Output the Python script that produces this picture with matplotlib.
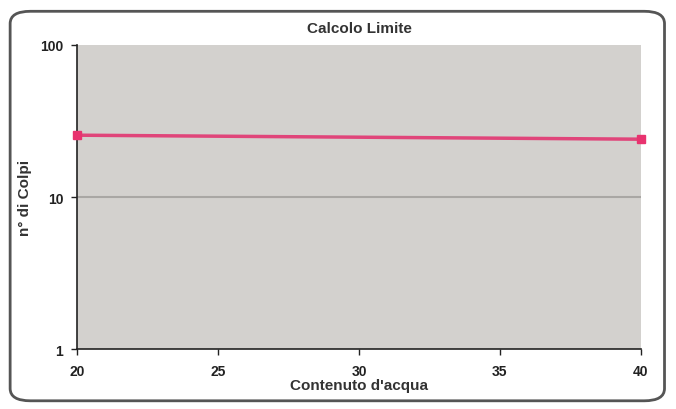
import numpy as np
import matplotlib
matplotlib.use("Agg")
import matplotlib.pyplot as plt
from matplotlib.patches import FancyBboxPatch
from matplotlib.ticker import FixedLocator, NullLocator, FixedFormatter

# data
water = [20, 40]
blows = [25.5, 24.0]
ref_line = [10, 10]
x_ticks = [20, 25, 30, 35, 40]
y_ticks = [1, 10, 100]

plt.rcParams['font.family'] = ['Liberation Sans', 'DejaVu Sans']

fig = plt.figure(figsize=(6.76, 4.10), dpi=100)
fig.patch.set_facecolor('white')

# rounded frame round the whole chart
frame = FancyBboxPatch((0.015, 0.02), 0.968, 0.95,
                       boxstyle="round,pad=0,rounding_size=0.03",
                       transform=fig.transFigure, facecolor='white',
                       edgecolor='#555555', linewidth=2.0, zorder=-1)
fig.patches.append(frame)

ax = fig.add_axes([0.114, 0.146, 0.834, 0.742])
ax.set_facecolor('#d3d1ce')
ax.set_yscale('log')
ax.set_xlim(20, 40)
ax.set_ylim(1, 100)

ax.plot(water, ref_line, color='#a9a7a4', linewidth=1.5, zorder=2)
ax.plot(water, blows, color='#e0457a', linewidth=2.5, marker='s',
        markersize=6, markerfacecolor='#e8336f', markeredgecolor='#e8336f',
        clip_on=False, zorder=3)

ax.xaxis.set_major_locator(FixedLocator(x_ticks))
ax.yaxis.set_major_locator(FixedLocator(y_ticks))
ax.yaxis.set_major_formatter(FixedFormatter([str(v) for v in y_ticks]))
ax.yaxis.set_minor_locator(NullLocator())

for s in ['top', 'right']:
    ax.spines[s].set_visible(False)
for s in ['left', 'bottom']:
    ax.spines[s].set_color('#222222')
    ax.spines[s].set_linewidth(1.2)

ax.tick_params(axis='both', labelsize=10, colors='#222222', length=4, width=1)
ax.tick_params(axis='x', pad=7)
ax.tick_params(axis='y', pad=6)
for lab in ax.get_xticklabels() + ax.get_yticklabels():
    lab.set_fontweight('bold')

ax.set_title('Calcolo Limite', fontsize=11, fontweight='bold', color='#333333', pad=9)
ax.set_xlabel("Contenuto d'acqua", fontsize=11, fontweight='bold', color='#333333', labelpad=0)
ax.set_ylabel("n° di Colpi", fontsize=11, fontweight='bold', color='#333333', labelpad=6)

fig.savefig('out.png', dpi=100)
